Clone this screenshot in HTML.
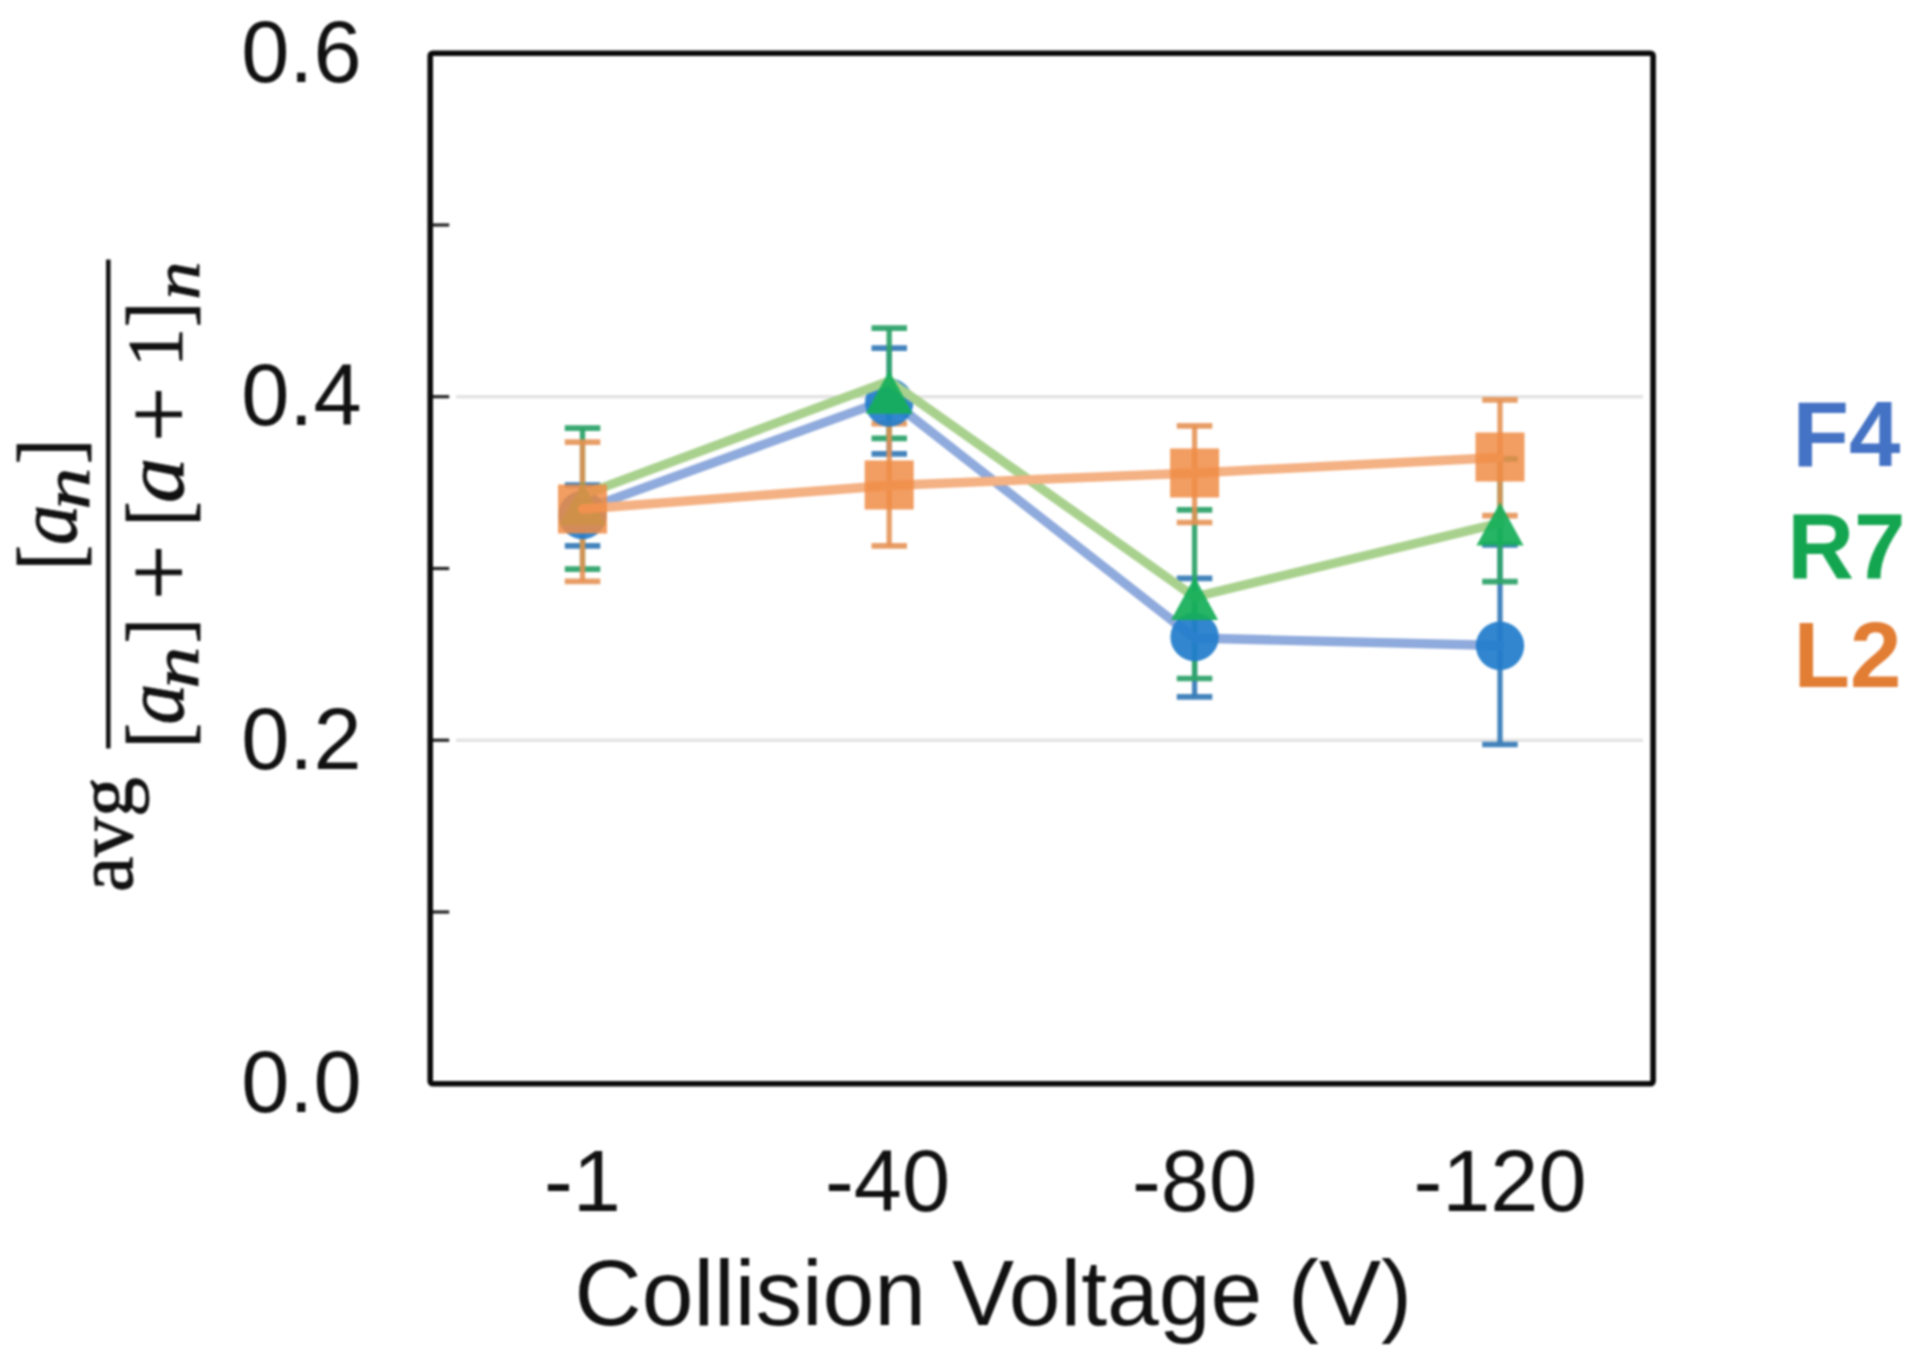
<!DOCTYPE html>
<html lang="en"><head><meta charset="utf-8"><title>Collision Voltage chart</title>
<style>
html,body{margin:0;padding:0;background:#fff;}
body{width:1920px;height:1365px;overflow:hidden;}
svg{display:block;filter:blur(1px);}
</style></head><body>
<svg width="1920" height="1365" viewBox="0 0 1920 1365">
<rect width="1920" height="1365" fill="#fff"/>
<path d="M456 396.7H1643" stroke="#e3e3e3" stroke-width="3.6"/>
<path d="M456 740.2H1643" stroke="#e3e3e3" stroke-width="3.6"/>
<path d="M430.2 225.0h19" stroke="#222" stroke-width="3.2"/>
<path d="M430.2 396.7h19" stroke="#222" stroke-width="3.2"/>
<path d="M430.2 568.5h19" stroke="#222" stroke-width="3.2"/>
<path d="M430.2 740.2h19" stroke="#222" stroke-width="3.2"/>
<path d="M430.2 912.0h19" stroke="#222" stroke-width="3.2"/>
<g class="data">
<g><path d="M582.5 485.0V545.8" stroke="#3A7DB8" stroke-width="5.3" fill="none" opacity="0.95"/><path d="M564.8 485.0h35.5M564.8 545.8h35.5" stroke="#3A7DB8" stroke-width="5.7" fill="none" opacity="0.95"/>
<path d="M889.2 348.1V453.9" stroke="#3A7DB8" stroke-width="5.3" fill="none" opacity="0.95"/><path d="M871.5 348.1h35.5M871.5 453.9h35.5" stroke="#3A7DB8" stroke-width="5.7" fill="none" opacity="0.95"/>
<path d="M1194.6 578.3V696.8" stroke="#3A7DB8" stroke-width="5.3" fill="none" opacity="0.95"/><path d="M1176.8 578.3h35.5M1176.8 696.8h35.5" stroke="#3A7DB8" stroke-width="5.7" fill="none" opacity="0.95"/>
<path d="M1500.0 544.9V744.5" stroke="#3A7DB8" stroke-width="5.3" fill="none" opacity="0.95"/><path d="M1482.2 544.9h35.5M1482.2 744.5h35.5" stroke="#3A7DB8" stroke-width="5.7" fill="none" opacity="0.95"/>
</g>
<g><path d="M582.5 428.2V569.2" stroke="#2FA36A" stroke-width="5.3" fill="none" opacity="0.95"/><path d="M564.8 428.2h35.5M564.8 569.2h35.5" stroke="#2FA36A" stroke-width="5.7" fill="none" opacity="0.95"/>
<path d="M889.2 328.2V438.4" stroke="#2FA36A" stroke-width="5.3" fill="none" opacity="0.95"/><path d="M871.5 328.2h35.5M871.5 438.4h35.5" stroke="#2FA36A" stroke-width="5.7" fill="none" opacity="0.95"/>
<path d="M1194.6 509.8V678.5" stroke="#2FA36A" stroke-width="5.3" fill="none" opacity="0.95"/><path d="M1176.8 509.8h35.5M1176.8 678.5h35.5" stroke="#2FA36A" stroke-width="5.7" fill="none" opacity="0.95"/>
<path d="M1500.0 459.0V581.6" stroke="#2FA36A" stroke-width="5.3" fill="none" opacity="0.95"/><path d="M1482.2 459.0h35.5M1482.2 581.6h35.5" stroke="#2FA36A" stroke-width="5.7" fill="none" opacity="0.95"/>
</g>
<g><path d="M582.5 442.2V581.3" stroke="#E59152" stroke-width="5.3" fill="none" opacity="0.88"/><path d="M564.8 442.2h35.5M564.8 581.3h35.5" stroke="#E59152" stroke-width="5.7" fill="none" opacity="0.88"/>
<path d="M889.2 423.6V545.8" stroke="#E59152" stroke-width="5.3" fill="none" opacity="0.88"/><path d="M871.5 423.6h35.5M871.5 545.8h35.5" stroke="#E59152" stroke-width="5.7" fill="none" opacity="0.88"/>
<path d="M1194.6 425.8V522.5" stroke="#E59152" stroke-width="5.3" fill="none" opacity="0.88"/><path d="M1176.8 425.8h35.5M1176.8 522.5h35.5" stroke="#E59152" stroke-width="5.7" fill="none" opacity="0.88"/>
<path d="M1500.0 399.9V515.6" stroke="#E59152" stroke-width="5.3" fill="none" opacity="0.88"/><path d="M1482.2 399.9h35.5M1482.2 515.6h35.5" stroke="#E59152" stroke-width="5.7" fill="none" opacity="0.88"/>
</g>
<g><polyline points="582.5,510.0 889.2,399.0 1194.6,638.0 1500.0,645.5" fill="none" stroke="#8FAADC" stroke-width="9.3" stroke-linejoin="round" stroke-linecap="round"/>
<circle cx="582.5" cy="515.0" r="24.2" fill="#227DCB" opacity="0.93"/>
<circle cx="889.2" cy="402.5" r="24.2" fill="#227DCB" opacity="0.93"/>
<circle cx="1194.6" cy="637.0" r="24.2" fill="#227DCB" opacity="0.93"/>
<circle cx="1500.0" cy="645.8" r="24.2" fill="#227DCB" opacity="0.93"/>
</g>
<g><polyline points="582.5,495.0 889.2,381.0 1194.6,597.0 1500.0,523.0" fill="none" stroke="#A9D18E" stroke-width="9.3" stroke-linejoin="round" stroke-linecap="round"/>
<path d="M582.5 482.2L606.0 525.2H559.0Z" fill="#16AE59" opacity="0.93"/>
<path d="M889.2 370.8L912.7 413.8H865.7Z" fill="#16AE59" opacity="0.93"/>
<path d="M1194.6 577.1L1218.1 620.1H1171.1Z" fill="#16AE59" opacity="0.93"/>
<path d="M1500.0 502.5L1523.5 545.5H1476.5Z" fill="#16AE59" opacity="0.93"/>
</g>
<g><polyline points="582.5,509.0 889.2,485.5 1194.6,473.0 1500.0,457.5" fill="none" stroke="#F4B183" stroke-width="9.3" stroke-linejoin="round" stroke-linecap="round"/>
<rect x="558.0" y="484.5" width="49" height="49" fill="#F08C45" opacity="0.85"/>
<rect x="864.7" y="460.5" width="49" height="49" fill="#F08C45" opacity="0.85"/>
<rect x="1170.1" y="448.5" width="49" height="49" fill="#F08C45" opacity="0.85"/>
<rect x="1475.5" y="432.5" width="49" height="49" fill="#F08C45" opacity="0.85"/>
</g>
</g>
<rect x="430.2" y="53.2" width="1222.9" height="1030.5" fill="none" rx="2.5" stroke="#0a0a0a" stroke-width="5.6" stroke-linejoin="round"/>
<g font-family="'Liberation Sans', Arial, sans-serif" font-size="86.5" fill="#111">
<text x="361.5" y="81.5" text-anchor="end">0.6</text>
<text x="361.5" y="425.0" text-anchor="end">0.4</text>
<text x="361.5" y="768.5" text-anchor="end">0.2</text>
<text x="361.5" y="1112.0" text-anchor="end">0.0</text>
<text x="582.5" y="1211.3" text-anchor="middle">-1</text>
<text x="887.5" y="1211.3" text-anchor="middle">-40</text>
<text x="1194.5" y="1211.3" text-anchor="middle">-80</text>
<text x="1500.0" y="1211.3" text-anchor="middle">-120</text>
</g>
<text x="993.3" y="1325" text-anchor="middle" font-family="'Liberation Sans', Arial, sans-serif" font-size="93" fill="#111">Collision Voltage (V)</text>
<g font-family="'Liberation Sans', Arial, sans-serif" font-weight="bold" font-size="92.5" text-anchor="middle">
<text x="1846.4" y="465.7" fill="#4472C4">F4</text>
<text x="1846.4" y="577.5" fill="#14A550">R7</text>
<text x="1847.6" y="687.3" fill="#E27D34">L2</text>
</g>
<g class="yl" font-family="'Liberation Serif', 'Times New Roman', serif" fill="#111" stroke="#111" stroke-width="0.9">
<text transform="translate(132 892) rotate(-90)" font-size="79.5" font-style="normal">avg</text>
<rect x="106.5" y="260" width="3.6" height="488"/>
<text transform="translate(78.5 570) rotate(-90) scale(0.85 1)" font-size="88" font-style="normal">[</text>
<text transform="translate(75.5 545) rotate(-90) scale(0.96 1)" font-size="84" font-style="italic">a</text>
<text transform="translate(89.0 509.5) rotate(-90) scale(1.27 1)" font-size="66" font-style="italic">n</text>
<text transform="translate(78.5 464) rotate(-90) scale(0.85 1)" font-size="88" font-style="normal">]</text>
<text transform="translate(187.5 748) rotate(-90) scale(0.85 1)" font-size="88" font-style="normal">[</text>
<text transform="translate(183 724.5) rotate(-90) scale(0.97 1)" font-size="84" font-style="italic">a</text>
<text transform="translate(198 688.5) rotate(-90) scale(1.27 1)" font-size="66" font-style="italic">n</text>
<text transform="translate(187.5 643.3) rotate(-90) scale(0.85 1)" font-size="88" font-style="normal">]</text>
<text transform="translate(190.5 600) rotate(-90)" font-size="98" font-style="normal">+</text>
<text transform="translate(187.5 526.3) rotate(-90) scale(0.85 1)" font-size="88" font-style="normal">[</text>
<text transform="translate(183 503) rotate(-90) scale(1.08 1)" font-size="84" font-style="italic">a</text>
<text transform="translate(190.5 442) rotate(-90)" font-size="98" font-style="normal">+</text>
<text transform="translate(180.5 367) rotate(-90)" font-size="78" font-style="normal">1</text>
<text transform="translate(187.5 327) rotate(-90) scale(0.85 1)" font-size="88" font-style="normal">]</text>
<text transform="translate(198.5 299.5) rotate(-90) scale(1.15 1)" font-size="66" font-style="italic">n</text>
</g>
</svg>
</body></html>
